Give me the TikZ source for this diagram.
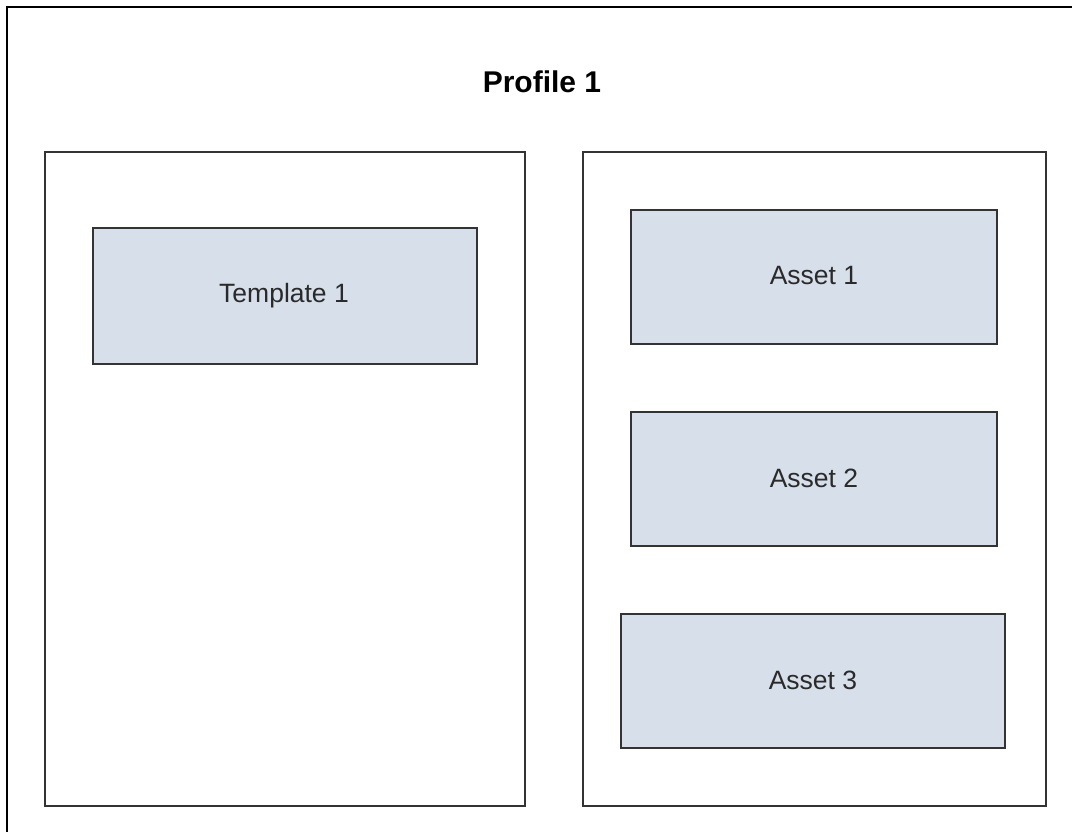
\documentclass[tikz,border=0pt]{standalone}
\usepackage{fontspec}
\setmainfont{Liberation Sans}
\definecolor{boxfill}{HTML}{D6DFEA}
\definecolor{txt}{HTML}{2A2A2A}
\definecolor{edge}{HTML}{333333}
\begin{document}
\begin{tikzpicture}[x=1pt,y=-1pt,
  frame/.style={draw=edge,line width=2pt,fill=white},
  item/.style={draw=edge,line width=2pt,fill=boxfill,inner sep=0pt},
  lbl/.style={text=txt,font=\fontsize{26.5}{31}\selectfont}]
\useasboundingbox (0,0) rectangle (1072,831);
\fill[white] (0,0) rectangle (1072,831);
% outer frame (extends beyond the picture)
\draw[draw=black,line width=2pt] (7,840) -- (7,7) -- (1080,7);
\node[text=black,font=\bfseries\fontsize{30}{36}\selectfont] (title) at (542,82) {Profile 1};
% containers
\draw[frame] (45,152) rectangle (525,806);
\draw[frame] (583,152) rectangle (1046,806);
% items
\draw[item] (93,228) rectangle (477,364);
\node[lbl] (t1) at (284,296) {Template 1};
\draw[item] (631,210) rectangle (997,344);
\node[lbl] (a1) at (814,276) {Asset 1};
\draw[item] (631,412) rectangle (997,546);
\node[lbl] (a2) at (814,478) {Asset 2};
\draw[item] (621,614) rectangle (1005,748);
\node[lbl] (a3) at (813,680) {Asset 3};
\end{tikzpicture}
\end{document}
